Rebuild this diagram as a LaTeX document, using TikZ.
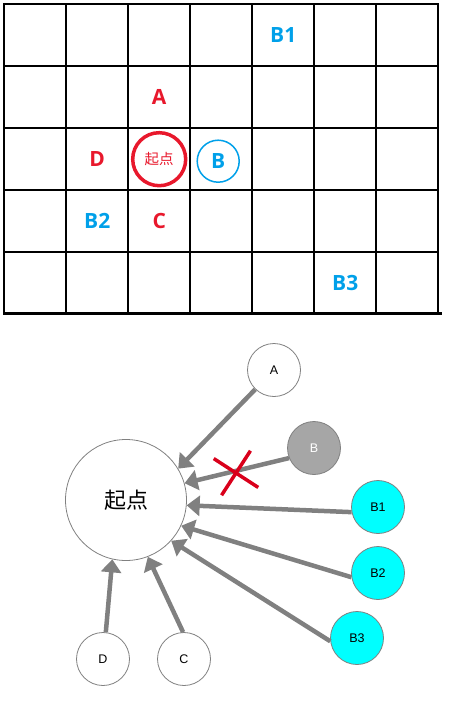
\documentclass[tikz,border=0pt]{standalone}
\usepackage{fontspec}
\setmainfont{Liberation Sans}
\newfontfamily\cjk{Noto Sans CJK SC}
\newfontfamily\boardfont{Open Sans}
\usepackage{tikz}
\usetikzlibrary{matrix,arrows.meta,shapes.misc}
\definecolor{boardred}{RGB}{232,24,44}
\definecolor{boardblue}{RGB}{0,160,233}
\definecolor{linegray}{RGB}{128,128,128}
\definecolor{nodegray}{RGB}{166,166,166}
\definecolor{nodecyan}{RGB}{0,255,255}
\definecolor{crossred}{RGB}{217,0,27}

\begin{document}
\begin{tikzpicture}[x=1pt,y=-1pt,
	state/.style={circle, draw=linegray, line width=0.8pt, minimum size=53pt, inner sep=0pt, font=\fontsize{12.5}{14}\selectfont},
	move/.style={color=linegray, line width=4.5pt, -{Triangle[length=13pt,width=20pt]}}]
			\useasboundingbox (0,0) rectangle (457,712);
			\matrix (b) [matrix of nodes, nodes in empty cells, anchor=north west, inner sep=0pt,
				row sep=-2pt, column sep=-2pt,
				nodes={draw, anchor=center, line width=2pt, minimum size=62pt, inner sep=0pt, font=\boardfont\bfseries\fontsize{21}{24}\selectfont}]
			at (3,3)
			{
				& & & & |[text=boardblue]| B1 & & \\
				& & |[text=boardred]| A & & & & \\
				& |[text=boardred]| D & & & & & \\
				& |[text=boardblue]| B2 & |[text=boardred]| C & & & & \\
				& & & & & |[text=boardblue]| B3 & \\
			};
			\draw[line width=3pt] ([yshift=1.5pt]b.south west) -- ([xshift=3pt,yshift=1.5pt]b.south east);
			\node[circle, draw=boardred, line width=3.5pt, minimum size=53pt, inner sep=0pt, text=boardred, font=\cjk\fontsize{14.5}{16}\selectfont] (s) at (b-3-3) {起点};
			\node[circle, draw=boardblue, line width=1.5pt, minimum size=42pt, inner sep=0pt, text=boardblue, font=\boardfont\bfseries\fontsize{21}{24}\selectfont] (bb) at ([xshift=-3pt,yshift=-2pt]b-3-4) {B};

			\node[circle, draw=linegray, line width=0.8pt, minimum size=121pt, inner sep=0pt, font=\cjk\fontsize{22}{24}\selectfont] (start) at (126,500) {起点};
			\node[state] (A) at (274,370) {A};
			\node[state, fill=nodegray, text=white] (B) at (314,448) {B};
			\node[state, fill=nodecyan] (B1) at (378,507) {B1};
			\node[state, fill=nodecyan] (B2) at (378,573) {B2};
			\node[state, fill=nodecyan] (B3) at (357,638) {B3};
			\node[state] (D) at (103,659) {D};
			\node[state] (C) at (184,659) {C};
			\path[move]
			(A) edge (start.31)
			(B.202) edge (start.16)
			(B1.191) edge (start.-5)
			(B2.189) edge (start.-25)
			(B3.187) edge (start.-42)
			(D.84) edge (start.-103)
			(C.92) edge (start.-69);
			\node[cross out, draw=crossred, line width=3.5pt, minimum size=34pt, inner sep=0pt, rotate=12] (cut) at (236,473) {};
		\end{tikzpicture}
\end{document}
